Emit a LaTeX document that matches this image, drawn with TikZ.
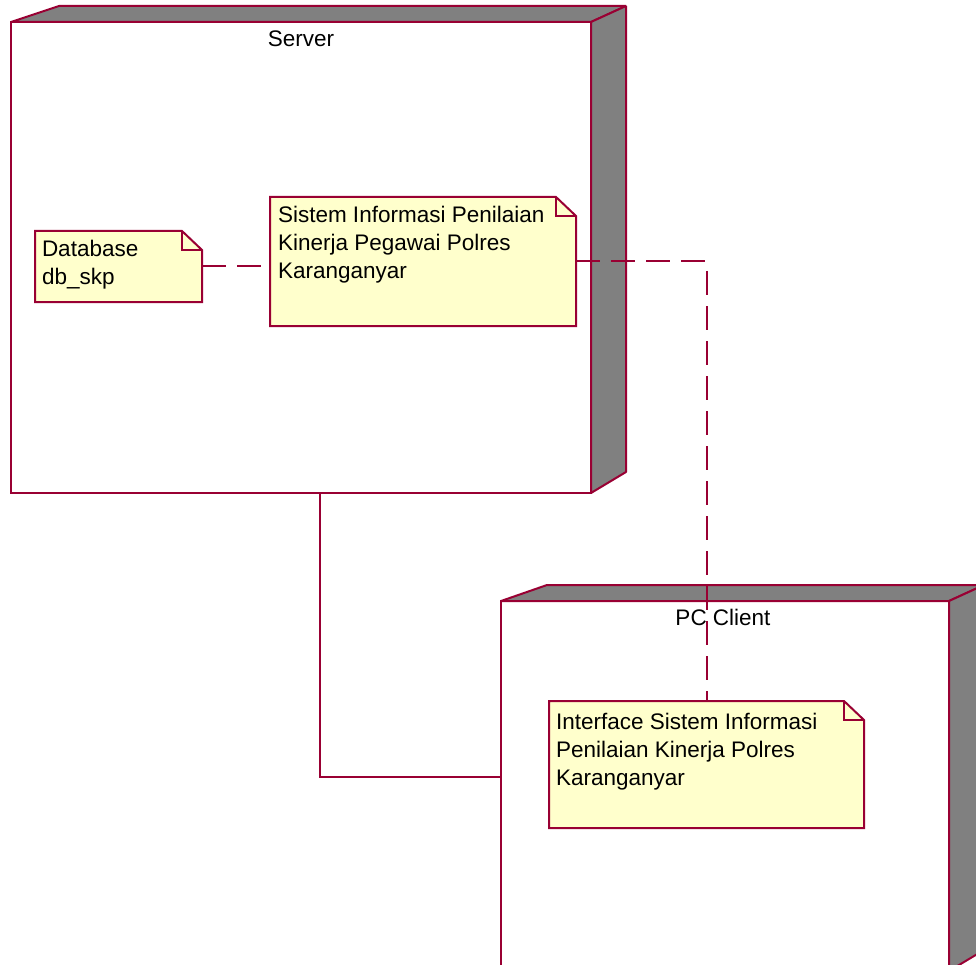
\documentclass[tikz,border=0pt]{standalone}
\usepackage{fontspec}
\setmainfont{Liberation Sans}
\definecolor{rose}{RGB}{153,0,51}
\definecolor{notefill}{RGB}{255,255,204}
\definecolor{sidegray}{RGB}{128,128,128}
\newcommand\drawnote[1]{%
  \filldraw[notestyle] (#1.north west) -- ([xshift=-20pt]#1.north east) -- ([yshift=-19pt]#1.north east) -- (#1.south east) -- (#1.south west) -- cycle;
  \draw[notefold] ([xshift=-20pt]#1.north east) -- ([xshift=-20pt,yshift=-19pt]#1.north east) -- ([yshift=-19pt]#1.north east);}
\begin{document}
\begin{tikzpicture}[x=1pt,y=-1pt,
  every node/.style={font=\fontsize{22.5}{28}\selectfont, inner sep=0pt, outer sep=0pt},
  frontbox/.style={rectangle, draw=rose, fill=white, line width=2.2pt},
  sideface/.style={fill=sidegray, draw=rose, line width=2pt, line join=bevel},
  notebox/.style={rectangle, draw=none},
  notestyle/.style={fill=notefill, draw=rose, line width=2pt},
  notefold/.style={draw=rose, line width=1.6pt},
  solidedge/.style={draw=rose, line width=2pt},
  dashedge/.style={draw=rose, line width=2pt, dash pattern=on 24pt off 11pt}]
\useasboundingbox (0,0) rectangle (976,965);
\clip (0,0) rectangle (976,965);
\fill[white] (0,0) rectangle (976,965);

% Server node
\node[frontbox, minimum width=580pt, minimum height=471pt] (server) at (301,257.5) {};
\filldraw[sideface] (server.north west) -- ++(48,-16) -- ([shift={(35,-16)}]server.north east) -- (server.north east) -- cycle;
\filldraw[sideface] (server.north east) -- ++(35,-16) -- ([shift={(35,-21)}]server.south east) -- (server.south east) -- cycle;
\node[anchor=base] (servertitle) at (301,47) {Server};

% PC Client node
\node[frontbox, minimum width=448pt, minimum height=370pt] (client) at (725,786) {};
\filldraw[sideface] (client.north west) -- ++(46,-16) -- ([shift={(35,-16)}]client.north east) -- (client.north east) -- cycle;
\filldraw[sideface] (client.north east) -- ++(35,-16) -- ([shift={(35,-21)}]client.south east) -- (client.south east) -- cycle;
\node[anchor=base] (clienttitle) at (723,625) {PC Client};

% Notes
\node[notebox, minimum width=167pt, minimum height=71pt] (db) at (118.5,266.5) {};
\drawnote{db}
\node[anchor=base west, align=left] (dbtext) at (42,284.5) {Database\\db\_skp};

\node[notebox, minimum width=306pt, minimum height=129pt] (sis) at (423,261.5) {};
\drawnote{sis}
\node[anchor=base west, align=left] (sistext) at (278,278.5) {Sistem Informasi Penilaian\\Kinerja Pegawai Polres\\Karanganyar};

\node[notebox, minimum width=315pt, minimum height=127pt] (iface) at (706.5,764.5) {};
\drawnote{iface}
\node[anchor=base west, align=left] (ifacetext) at (556,785) {Interface Sistem Informasi\\Penilaian Kinerja Polres\\Karanganyar};

% Connectors
\draw[dashedge] (db.east) -- (db.east -| sis.west);
\draw[dashedge] (sis.east) -| (iface.north);
\draw[solidedge] ([xshift=19pt]server.south) |- ([yshift=9pt]client.west);
\end{tikzpicture}
\end{document}
